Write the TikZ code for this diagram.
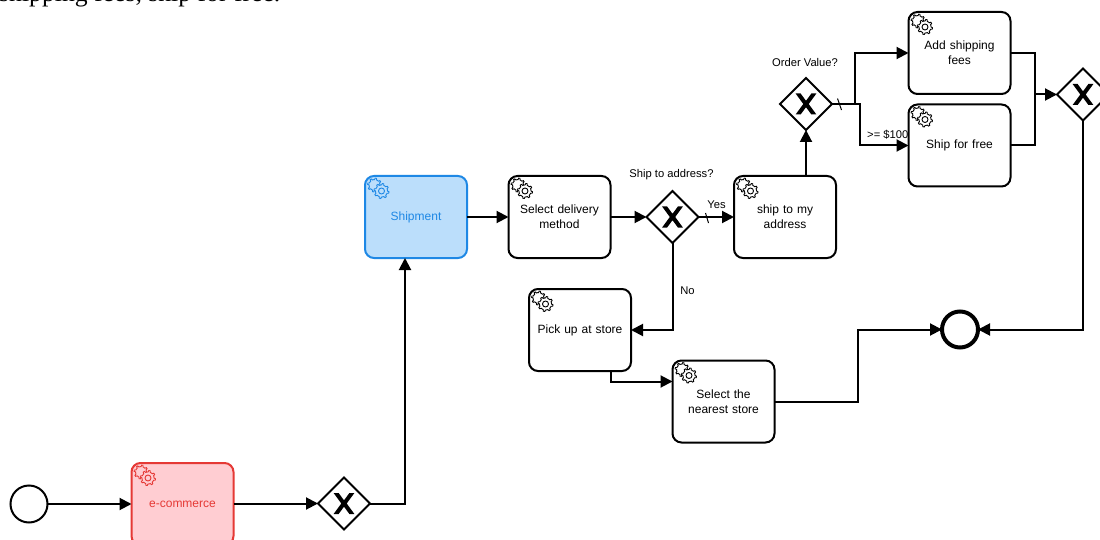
\documentclass[tikz,border=0pt]{standalone}
\usepackage{fontspec}
\setmainfont{Liberation Sans}
\newfontfamily\topfont{Liberation Serif}
\usetikzlibrary{arrows.meta,shapes.geometric,calc}
\definecolor{bluestroke}{HTML}{1E88E5}
\definecolor{bluefill}{HTML}{BBDEFB}
\definecolor{redstroke}{HTML}{E53935}
\definecolor{redfill}{HTML}{FFCDD2}
\tikzset{
  x=1pt,y=-1pt,
  flow/.style={line width=2pt,-{Triangle[length=12pt,width=12pt]}},
  plainflow/.style={line width=2pt},
  slash/.style={line width=1pt},
  taskbox/.style={draw=black,fill=white,line width=2pt,rounded corners=9pt,minimum width=102pt,minimum height=82pt,inner sep=0pt,outer sep=0pt,text width=96pt,align=center,font=\fontsize{12}{15}\selectfont,text=black},
  bluebox/.style={taskbox,draw=bluestroke,fill=bluefill,text=bluestroke},
  redbox/.style={taskbox,draw=redstroke,fill=redfill,text=redstroke},
  gatebox/.style={diamond,draw=black,fill=white,line width=2pt,shape aspect=1,minimum width=52pt,minimum height=52pt,inner sep=0pt,outer sep=0pt},
  startev/.style={circle,draw=black,fill=white,line width=2pt,minimum size=37pt,inner sep=0pt,outer sep=0pt},
  endev/.style={circle,draw=black,fill=white,line width=4pt,minimum size=36pt,inner sep=0pt,outer sep=0pt},
  lab/.style={font=\fontsize{11.2}{13}\selectfont,inner sep=0pt,text=black},
  pics/gears/.style 2 args={code={
    \draw[draw=#1,fill=#2,line width=.9pt] plot[samples=65,domain=0:360,variable=\t] ({(5.4+1.5*(sin(8*\t)>0))*cos(\t)-3.5},{(5.4+1.5*(sin(8*\t)>0))*sin(\t)-3}) -- cycle;
    \draw[draw=#1,fill=#2,line width=.9pt] plot[samples=65,domain=0:360,variable=\t] ({(6+1.5*(sin(8*\t)>0))*cos(\t)+3.5},{(6+1.5*(sin(8*\t)>0))*sin(\t)+3}) -- cycle;
    \draw[draw=#1,line width=.9pt] (3.5,3) circle (3pt);
  }},
  pics/gatex/.style={code={
    \fill[black] (-10.4,-10.5) -- (-5.4,-10.5) -- (0,-3.2) -- (5.4,-10.5) -- (10.4,-10.5) -- (2.7,0) -- (10.4,10.5) -- (5.4,10.5) -- (0,3.2) -- (-5.4,10.5) -- (-10.4,10.5) -- (-2.7,0) -- cycle;
  }}
}
\begin{document}
\begin{tikzpicture}
\useasboundingbox (0,0) rectangle (1100,540);
\fill[white] (0,0) rectangle (1100,540);
\node[anchor=base west,inner sep=0pt,font=\topfont\fontsize{25.7}{28}\selectfont] (top) at (-1,1.5) {shipping fees, ship for free.};

\node[startev] (start) at (29,504) {};
\node[redbox] (ecom) at (182.5,504) {e-commerce};
\node[gatebox] (gw1) at (344,503.5) {};
\node[bluebox] (ship) at (416,217) {Shipment};
\node[taskbox] (sel) at (559.5,217) {Select delivery\\method\\[6pt]};
\node[gatebox] (gw2) at (672.5,217) {};
\node[taskbox] (addr) at (785,217) {ship to my\\address\\[6pt]};
\node[gatebox] (gw3) at (806,104) {};
\node[taskbox] (fees) at (959.5,53) {Add shipping\\fees\\[8pt]};
\node[taskbox] (free) at (959.5,145.5) {Ship for free};
\node[gatebox] (gw4) at (1083,94.5) {};
\node[endev] (end) at (960,329.5) {};
\node[taskbox] (pick) at (580,330) {Pick up at store};
\node[taskbox] (near) at (723.5,401.5) {Select the\\nearest store\\[7.5pt]};

\pic at (gw1) {gatex};
\pic at (gw2) {gatex};
\pic at (gw3) {gatex};
\pic at (gw4) {gatex};

\pic at ([shift={(13,12)}]ecom.north west) {gears={redstroke}{redfill}};
\pic at ([shift={(13,12)}]ship.north west) {gears={bluestroke}{bluefill}};
\pic at ([shift={(13,12)}]sel.north west) {gears={black}{white}};
\pic at ([shift={(13,12)}]addr.north west) {gears={black}{white}};
\pic at ([shift={(13,12)}]fees.north west) {gears={black}{white}};
\pic at ([shift={(13,12)}]free.north west) {gears={black}{white}};
\pic at ([shift={(13,12)}]pick.north west) {gears={black}{white}};
\pic at ([shift={(13,12)}]near.north west) {gears={black}{white}};

\draw[flow] (start.east) -- (ecom.west |- start.east);
\draw[flow] (ecom.east |- gw1.west) -- (gw1.west);
\draw[flow] (gw1.east) -| ([xshift=-11pt]ship.south);
\draw[flow] (ship.east) -- (sel.west);
\draw[flow] (sel.east) -- (gw2.west);
\draw[flow] (gw2.east) -- (addr.west);
\draw[flow] ([xshift=21pt]addr.north) -- (gw3.south);
\draw[flow] (gw3.east) -- ++(23,0) |- (fees.west);
\draw[flow] (gw3.east) -- ++(28,0) |- (free.west);
\coordinate (trunk) at (1035,94.5);
\draw[plainflow] (fees.east) -| (trunk);
\draw[plainflow] (free.east) -| (trunk);
\draw[flow] (trunk) -- (gw4.west);
\draw[flow] (gw4.south) |- (end.east);
\draw[flow] (gw2.south) |- (pick.east);
\draw[flow] ([xshift=31pt]pick.south) |- ([yshift=20pt]near.west);
\draw[flow] (near.east) -- ++(83,0) |- (end.west);

\coordinate (sa) at (705.5,213);
\coordinate (sb) at (708.5,223);
\draw[slash] (sa) -- (sb);
\coordinate (sc) at (837.5,98.5);
\coordinate (sd) at (841.5,110);
\draw[slash] (sc) -- (sd);

\node[lab] (l1) at (805,62.5) {Order Value?};
\node[lab] (l2) at (671.5,175) {Ship to address?};
\node[lab] (l3) at (716.5,205) {Yes};
\node[lab] (l4) at (687.5,291) {No};
\node[lab,anchor=west] (l5) at (867,135) {>= \$100};
\end{tikzpicture}
\end{document}
